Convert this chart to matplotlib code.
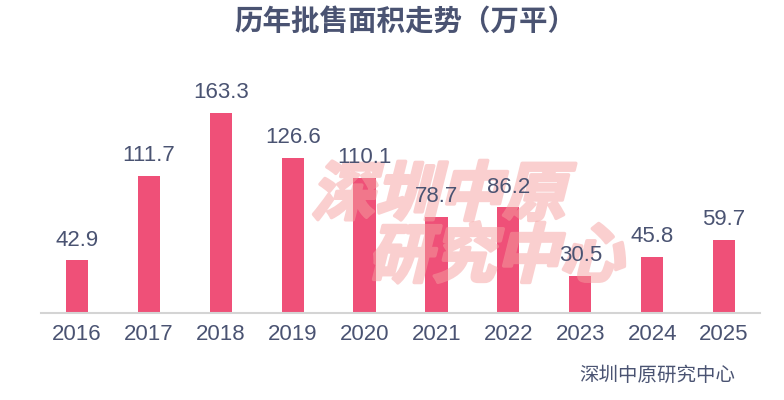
import matplotlib
matplotlib.use("Agg")
import matplotlib.pyplot as plt
from matplotlib import patheffects
from matplotlib.transforms import Affine2D

years = ["2016", "2017", "2018", "2019", "2020", "2021", "2022", "2023", "2024", "2025"]
values = [42.9, 111.7, 163.3, 126.6, 110.1, 78.7, 86.2, 30.5, 45.8, 59.7]

title = "历年批售面积走势（万平）"
source = "深圳中原研究中心"
wm1 = "深圳中原"
wm2 = "研究中心"

plt.rcParams['font.family'] = ['Noto Sans CJK SC', 'DejaVu Sans']
num_font = ['Liberation Sans', 'DejaVu Sans']
txt = "#4a5372"
bar_c = "#ef5078"


class Skew(patheffects.AbstractPathEffect):
    def __init__(self, cy, deg=14, lw=2.5):
        super().__init__()
        self.cy = cy
        self.deg = deg
        self.lw = lw

    def draw_path(self, renderer, gc, tpath, affine, rgbFace=None):
        sk = Affine2D().translate(0, -self.cy).skew_deg(self.deg, 0).translate(0, self.cy)
        gc0 = renderer.new_gc()
        gc0.copy_properties(gc)
        gc0.set_linewidth(self.lw)
        gc0.set_foreground(rgbFace)
        gc0.set_joinstyle("round")
        renderer.draw_path(gc0, tpath, affine + sk, rgbFace)
        gc0.restore()


def fade(im, dpi):
    out = im.copy()
    out[..., 3] = out[..., 3] * 0.5
    return out, 0, 0


fig = plt.figure(figsize=(7.84, 4.0), dpi=100)
ax = fig.add_axes([41/784, (400-313)/400, 719/784, 245/400])
x = list(range(len(years)))
ax.bar(x, values, width=0.31, color=bar_c, zorder=2)
for xi, v in zip(x, values):
    ax.annotate(f"{v:.1f}", (xi, v), xytext=(0, 7), textcoords="offset points",
                ha="center", va="bottom", fontsize=16, color=txt, family=num_font,
                zorder=4)
ax.set_xlim(-0.5, 9.5)
ax.set_ylim(0, 200)
ax.set_xticks(x)
ax.set_xticklabels(years, fontsize=16, color=txt, family=num_font)
ax.tick_params(axis='x', length=0, pad=8)
ax.set_yticks([])
for s in ["top", "right", "left"]:
    ax.spines[s].set_visible(False)
ax.spines["bottom"].set_color("#d4d4d4")
ax.spines["bottom"].set_linewidth(1.5)

fig.text(405/784, 1 - 23/400, title, ha="center", va="center", fontsize=20.5,
         fontweight="bold", color=txt)
fig.text(735/784, 1 - 375/400, source, ha="right", va="center", fontsize=14, color=txt)

y1 = 400 - 196
y2 = 400 - 258
t1 = ax.text(443/784, y1/400, wm1, ha="center", va="center", fontsize=46,
             fontweight="heavy", color="#f5a0a0", zorder=3, transform=fig.transFigure)
t1.set_path_effects([Skew(y1)])
t1.set_agg_filter(fade)
t2 = ax.text(500/784, y2/400, wm2, ha="center", va="center", fontsize=46,
             fontweight="heavy", color="#f5a0a0", zorder=3, transform=fig.transFigure)
t2.set_path_effects([Skew(y2)])
t2.set_agg_filter(fade)

fig.savefig("out.png", dpi=100)
